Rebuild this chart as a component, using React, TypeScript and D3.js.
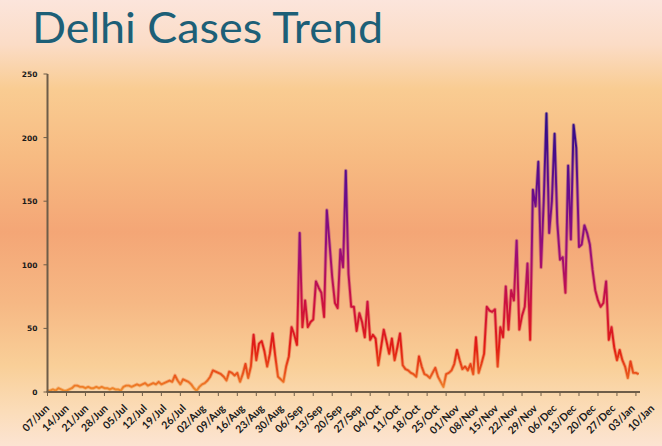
import React from "react";
import * as d3 from "d3";

const tickLabels = [
  "07/Jun","14/Jun","21/Jun","28/Jun","05/Jul","12/Jul","19/Jul","26/Jul",
  "02/Aug","09/Aug","16/Aug","23/Aug","30/Aug","06/Sep","13/Sep","20/Sep",
  "27/Sep","04/Oct","11/Oct","18/Oct","25/Oct","01/Nov","08/Nov","15/Nov",
  "22/Nov","29/Nov","06/Dec","13/Dec","20/Dec","27/Dec","03/Jan","10/Jan",
];
const yTicks = [0, 50, 100, 150, 200, 250];
// daily cases from 07/Jun to 11/Jan
const cases = [
  1,1,2,1,3,2,1,1,2,3,5,
  5,4,4,3,4,3,3,4,3,4,3,3,2,3,2,2,1,
  4,5,5,4,5,6,5,6,7,5,6,7,6,
  8,6,7,8,9,8,13,9,6,10,9,8,6,3,1,4,6,7,9,12,17,16,15,14,12,9,16,15,13,15,
  8,14,22,11,20,45,25,38,40,32,20,30,46,28,12,10,8,20,28,51,45,37,125,51,
  72,51,55,57,87,82,78,59,143,117,90,70,66,112,98,174,93,67,67,48,62,55,
  43,71,41,45,42,21,35,49,40,30,42,25,35,46,21,18,17,15,14,12,28,20,14,13,
  11,15,19,12,8,4,14,15,17,22,33,25,18,20,17,22,14,43,15,22,30,67,64,63,
  65,20,51,43,83,49,80,72,119,49,60,67,101,41,159,146,181,98,150,219,125,
  150,203,133,104,106,78,178,120,210,192,114,116,131,125,116,96,80,72,67,
  70,87,41,51,35,25,33,25,20,11,24,15,15,14,
];

const W = 662, H = 446;
const left = 47.5, right = 640, top = 74, bottom = 392;

export default function App() {
  const x = d3.scaleLinear().domain([0, 218.5]).range([left, right]);
  const y = d3.scaleLinear().domain([0, 250]).range([bottom, top]);
  const labelX = d3.scaleLinear().domain([0, tickLabels.length - 1]).range([50, 655]);
  const line = d3.line<number>().x((_, i) => x(i)).y((d) => y(d));
  const path = line(cases) || "";
  const stops = [
    [0, "#f0902e"], [12, "#ea5a1c"], [35, "#e21c12"], [70, "#cc1040"],
    [110, "#9a0c78"], [160, "#640c8c"], [215, "#2c0c88"],
  ];
  return (
    <svg width={W} height={H} style={{ display: "block", position: "absolute", left: 0, top: 0 }}>
      <defs>
        <linearGradient id="bg" x1="0" y1="0" x2="0" y2="1">
          <stop offset="0" stopColor="#fce5dc" />
          <stop offset="0.1" stopColor="#fbdcc6" />
          <stop offset="0.2" stopColor="#f9cc92" />
          <stop offset="0.35" stopColor="#f7bb82" />
          <stop offset="0.52" stopColor="#f4a676" />
          <stop offset="0.68" stopColor="#f6b884" />
          <stop offset="0.82" stopColor="#f9cf98" />
          <stop offset="0.92" stopColor="#fbdcb8" />
          <stop offset="1" stopColor="#fce4d2" />
        </linearGradient>
        <linearGradient id="lineGrad" gradientUnits="userSpaceOnUse" x1="0" y1={y(0)} x2="0" y2={y(250)}>
          {stops.map(([v, c]) => (
            <stop key={v as number} offset={(v as number) / 250} stopColor={c as string} />
          ))}
        </linearGradient>
      </defs>
      <rect width={W} height={H} fill="url(#bg)" />
      <text x={32} y={43} fill="#1d5f77" fontFamily="Lato, 'Open Sans', sans-serif" fontSize={42}
        textLength={351} lengthAdjust="spacingAndGlyphs">Delhi Cases Trend</text>
      <path d={path} fill="none" stroke="url(#lineGrad)" strokeWidth={3.6} strokeOpacity={0.35} strokeLinejoin="round" />
      <path d={path} fill="none" stroke="url(#lineGrad)" strokeWidth={1.9} strokeLinejoin="round" />
      {/* y axis */}
      <line x1={left} x2={left} y1={top} y2={bottom} stroke="#6e5d48" strokeWidth={2} />
      {yTicks.map((t) => (
        <g key={t}>
          <line x1={left - 4} x2={left} y1={y(t)} y2={y(t)} stroke="#6e5d48" strokeWidth={1} />
          <text x={left - 10} y={y(t) + 3} textAnchor="end" fontFamily="'DejaVu Sans', sans-serif"
            fontWeight="bold" fontSize={7.5} fill="#1a1a1a">{t}</text>
        </g>
      ))}
      {/* x axis */}
      <line x1={left - 1} x2={right} y1={bottom} y2={bottom} stroke="#6e5d48" strokeWidth={2} />
      {tickLabels.map((lab, i) => {
        const tx = x(i * 7);
        return (
          <g key={lab}>
            <line x1={tx} x2={tx} y1={bottom} y2={bottom + 4} stroke="#6e5d48" strokeWidth={1} />
            <text transform={`translate(${labelX(i)},${bottom + 17}) rotate(-45)`} textAnchor="end"
              fontFamily="Lato, 'Open Sans', sans-serif" fontWeight="bold" fontSize={10.5} fill="#1a1a1a">{lab}</text>
          </g>
        );
      })}
    </svg>
  );
}
